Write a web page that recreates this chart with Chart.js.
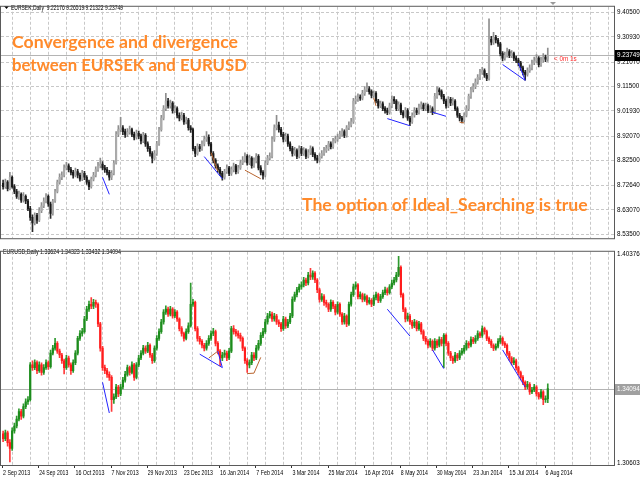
<!DOCTYPE html>
<html>
<head>
<meta charset="utf-8">
<script src="https://cdn.jsdelivr.net/npm/chart.js@4.4.0/dist/chart.umd.min.js"></script>
<style>
  html, body { margin: 0; padding: 0; background: #fff; }
  #wrap { position: relative; width: 640px; height: 480px; overflow: hidden; }
  canvas { position: absolute; left: 0; }
  #top { top: 0; }
  #bot { top: 245px; }
</style>
</head>
<body>
<div id="wrap">
  <canvas id="top" width="640" height="245"></canvas>
  <canvas id="bot" width="640" height="235"></canvas>
</div>
<script>
// x axis labels, one every 16 daily bars
const dateLabels = ["2 Sep 2013", "24 Sep 2013", "16 Oct 2013", "7 Nov 2013", "29 Nov 2013",
  "23 Dec 2013", "16 Jan 2014", "7 Feb 2014", "3 Mar 2014", "25 Mar 2014", "16 Apr 2014",
  "8 May 2014", "30 May 2014", "23 Jun 2014", "15 Jul 2014", "6 Aug 2014"];

// price scale labels
const sekTicks = [9.405, 9.3093, 9.2107, 9.115, 9.0193, 8.9207, 8.825, 8.7264, 8.6307, 8.535];
const usdTicks = [1.40376, 1.30603];

// EURSEK daily
const sekOpen = [8.735, 8.722, 8.740, 8.714, 8.759, 8.722, 8.703, 8.684, 8.692, 8.669,
  8.684, 8.666, 8.636, 8.602, 8.580, 8.610, 8.591, 8.628, 8.647, 8.666,
  8.684, 8.654, 8.617, 8.666, 8.703, 8.740, 8.759, 8.767, 8.796, 8.804,
  8.789, 8.778, 8.767, 8.781, 8.767, 8.752, 8.774, 8.759, 8.740, 8.722,
  8.752, 8.767, 8.789, 8.804, 8.811, 8.796, 8.789, 8.778, 8.759, 8.774,
  8.815, 8.927, 8.946, 8.953, 8.938, 8.927, 8.935, 8.946, 8.927, 8.916,
  8.931, 8.920, 8.901, 8.923, 8.890, 8.871, 8.852, 8.834, 8.852, 8.890,
  8.946, 8.991, 9.028, 9.058, 9.039, 9.050, 9.020, 9.028, 9.002, 8.991,
  9.002, 8.976, 8.983, 8.953, 8.946, 8.871, 8.852, 8.879, 8.871, 8.890,
  8.908, 8.916, 8.890, 8.852, 8.826, 8.804, 8.789, 8.774, 8.759, 8.781,
  8.796, 8.774, 8.789, 8.804, 8.781, 8.796, 8.815, 8.826, 8.841, 8.815,
  8.834, 8.804, 8.823, 8.841, 8.796, 8.778, 8.767, 8.815, 8.834, 8.841,
  8.908, 8.953, 8.964, 8.946, 8.927, 8.908, 8.920, 8.890, 8.871, 8.852,
  8.864, 8.841, 8.871, 8.852, 8.864, 8.841, 8.856, 8.871, 8.849, 8.834,
  8.826, 8.841, 8.852, 8.864, 8.871, 8.890, 8.879, 8.901, 8.908, 8.916,
  8.927, 8.938, 8.923, 8.953, 8.964, 8.976, 9.058, 9.065, 9.073, 9.069,
  9.088, 9.102, 9.106, 9.095, 9.080, 9.088, 9.058, 9.039, 9.047, 9.028,
  9.020, 9.013, 9.039, 9.065, 9.058, 9.028, 9.043, 9.013, 9.002, 9.020,
  8.991, 8.976, 9.002, 9.020, 9.013, 9.035, 9.043, 9.028, 9.039, 9.020,
  9.028, 9.013, 9.076, 9.102, 9.095, 9.076, 9.058, 9.039, 9.065, 9.050,
  9.058, 9.028, 9.002, 8.991, 8.983, 9.002, 9.028, 9.076, 9.102, 9.114,
  9.132, 9.151, 9.170, 9.177, 9.159, 9.147, 9.300, 9.289, 9.308, 9.297,
  9.282, 9.244, 9.226, 9.237, 9.252, 9.237, 9.244, 9.226, 9.218, 9.207,
  9.188, 9.170, 9.162, 9.177, 9.188, 9.207, 9.215, 9.226, 9.200, 9.218,
  9.230, 9.22176];
const sekHigh = [8.748, 8.752, 8.746, 8.778, 8.765, 8.730, 8.712, 8.705, 8.698, 8.699,
  8.690, 8.672, 8.645, 8.612, 8.620, 8.618, 8.640, 8.660, 8.678, 8.695,
  8.690, 8.662, 8.672, 8.712, 8.748, 8.772, 8.780, 8.808, 8.818, 8.812,
  8.798, 8.786, 8.795, 8.790, 8.775, 8.786, 8.782, 8.766, 8.748, 8.760,
  8.778, 8.800, 8.818, 8.834, 8.820, 8.806, 8.798, 8.786, 8.785, 8.824,
  8.938, 8.962, 8.994, 8.962, 8.948, 8.950, 8.960, 8.952, 8.936, 8.944,
  8.940, 8.928, 8.935, 8.930, 8.898, 8.880, 8.860, 8.864, 8.900, 8.955,
  9.002, 9.040, 9.088, 9.068, 9.062, 9.056, 9.040, 9.035, 9.012, 9.015,
  9.010, 8.995, 8.990, 8.962, 8.952, 8.880, 8.890, 8.888, 8.902, 8.920,
  8.938, 8.925, 8.896, 8.860, 8.832, 8.812, 8.798, 8.782, 8.790, 8.808,
  8.802, 8.800, 8.815, 8.810, 8.806, 8.826, 8.840, 8.855, 8.848, 8.846,
  8.840, 8.835, 8.852, 8.848, 8.805, 8.785, 8.824, 8.845, 8.855, 8.918,
  8.965, 9.002, 8.975, 8.955, 8.935, 8.932, 8.928, 8.898, 8.880, 8.876,
  8.870, 8.882, 8.880, 8.875, 8.870, 8.868, 8.882, 8.878, 8.856, 8.845,
  8.852, 8.864, 8.876, 8.884, 8.900, 8.898, 8.912, 8.920, 8.928, 8.940,
  8.950, 8.945, 8.962, 8.976, 8.990, 9.068, 9.078, 9.086, 9.082, 9.100,
  9.115, 9.129, 9.115, 9.102, 9.098, 9.095, 9.065, 9.058, 9.055, 9.036,
  9.030, 9.050, 9.078, 9.075, 9.064, 9.055, 9.050, 9.020, 9.032, 9.028,
  8.998, 9.012, 9.032, 9.030, 9.046, 9.055, 9.050, 9.050, 9.046, 9.040,
  9.035, 9.088, 9.114, 9.110, 9.102, 9.084, 9.066, 9.075, 9.072, 9.070,
  9.064, 9.035, 9.010, 8.998, 9.012, 9.040, 9.085, 9.112, 9.126, 9.145,
  9.162, 9.182, 9.190, 9.184, 9.166, 9.380, 9.312, 9.327, 9.315, 9.304,
  9.288, 9.252, 9.250, 9.265, 9.260, 9.256, 9.250, 9.234, 9.225, 9.214,
  9.195, 9.178, 9.188, 9.200, 9.218, 9.230, 9.240, 9.232, 9.230, 9.244,
  9.238, 9.26519];
const sekLow = [8.712, 8.715, 8.705, 8.709, 8.716, 8.695, 8.676, 8.672, 8.660, 8.661,
  8.655, 8.628, 8.590, 8.546, 8.572, 8.578, 8.585, 8.620, 8.640, 8.658,
  8.645, 8.598, 8.610, 8.660, 8.698, 8.732, 8.750, 8.760, 8.788, 8.780,
  8.768, 8.755, 8.760, 8.756, 8.744, 8.746, 8.750, 8.731, 8.710, 8.716,
  8.745, 8.760, 8.782, 8.796, 8.788, 8.778, 8.768, 8.748, 8.750, 8.768,
  8.810, 8.918, 8.938, 8.926, 8.915, 8.918, 8.928, 8.918, 8.905, 8.908,
  8.910, 8.890, 8.895, 8.880, 8.860, 8.842, 8.815, 8.826, 8.845, 8.884,
  8.940, 8.984, 9.020, 9.030, 9.030, 9.010, 9.012, 8.992, 8.980, 8.984,
  8.966, 8.968, 8.944, 8.935, 8.862, 8.840, 8.846, 8.860, 8.864, 8.882,
  8.900, 8.882, 8.843, 8.815, 8.795, 8.778, 8.765, 8.748, 8.752, 8.774,
  8.765, 8.766, 8.780, 8.772, 8.774, 8.790, 8.808, 8.818, 8.806, 8.808,
  8.795, 8.798, 8.815, 8.788, 8.768, 8.752, 8.760, 8.808, 8.826, 8.835,
  8.900, 8.945, 8.936, 8.918, 8.898, 8.900, 8.880, 8.862, 8.842, 8.845,
  8.832, 8.835, 8.844, 8.845, 8.832, 8.835, 8.848, 8.840, 8.825, 8.815,
  8.818, 8.834, 8.845, 8.856, 8.864, 8.870, 8.872, 8.894, 8.900, 8.910,
  8.920, 8.914, 8.916, 8.946, 8.956, 8.970, 9.048, 9.056, 9.060, 9.062,
  9.080, 9.095, 9.085, 9.070, 9.072, 9.050, 9.030, 9.032, 9.020, 9.010,
  9.004, 9.006, 9.032, 9.048, 9.020, 9.020, 9.004, 8.992, 8.995, 8.982,
  8.961, 8.970, 8.995, 9.004, 9.006, 9.026, 9.020, 9.020, 9.012, 9.012,
  9.004, 9.008, 9.068, 9.082, 9.066, 9.048, 9.030, 9.032, 9.040, 9.042,
  9.020, 8.994, 8.980, 8.972, 8.976, 8.996, 9.020, 9.068, 9.094, 9.106,
  9.124, 9.142, 9.162, 9.150, 9.138, 9.140, 9.278, 9.280, 9.286, 9.272,
  9.235, 9.215, 9.218, 9.230, 9.228, 9.228, 9.216, 9.208, 9.196, 9.178,
  9.160, 9.140, 9.155, 9.170, 9.180, 9.200, 9.208, 9.192, 9.194, 9.210,
  9.212, 9.21322];
const sekClose = [8.722, 8.740, 8.714, 8.759, 8.722, 8.703, 8.684, 8.692, 8.669, 8.684,
  8.666, 8.636, 8.602, 8.580, 8.610, 8.591, 8.628, 8.647, 8.666, 8.684,
  8.654, 8.617, 8.666, 8.703, 8.740, 8.759, 8.767, 8.796, 8.804, 8.789,
  8.778, 8.767, 8.781, 8.767, 8.752, 8.774, 8.759, 8.740, 8.722, 8.752,
  8.767, 8.789, 8.804, 8.811, 8.796, 8.789, 8.778, 8.759, 8.774, 8.815,
  8.927, 8.946, 8.953, 8.938, 8.927, 8.935, 8.946, 8.927, 8.916, 8.931,
  8.920, 8.901, 8.923, 8.890, 8.871, 8.852, 8.834, 8.852, 8.890, 8.946,
  8.991, 9.028, 9.058, 9.039, 9.050, 9.020, 9.028, 9.002, 8.991, 9.002,
  8.976, 8.983, 8.953, 8.946, 8.871, 8.852, 8.879, 8.871, 8.890, 8.908,
  8.916, 8.890, 8.852, 8.826, 8.804, 8.789, 8.774, 8.759, 8.781, 8.796,
  8.774, 8.789, 8.804, 8.781, 8.796, 8.815, 8.826, 8.841, 8.815, 8.834,
  8.804, 8.823, 8.841, 8.796, 8.778, 8.767, 8.815, 8.834, 8.841, 8.908,
  8.953, 8.964, 8.946, 8.927, 8.908, 8.920, 8.890, 8.871, 8.852, 8.864,
  8.841, 8.871, 8.852, 8.864, 8.841, 8.856, 8.871, 8.849, 8.834, 8.826,
  8.841, 8.852, 8.864, 8.871, 8.890, 8.879, 8.901, 8.908, 8.916, 8.927,
  8.938, 8.923, 8.953, 8.964, 8.976, 9.058, 9.065, 9.073, 9.069, 9.088,
  9.102, 9.106, 9.095, 9.080, 9.088, 9.058, 9.039, 9.047, 9.028, 9.020,
  9.013, 9.039, 9.065, 9.058, 9.028, 9.043, 9.013, 9.002, 9.020, 8.991,
  8.976, 9.002, 9.020, 9.013, 9.035, 9.043, 9.028, 9.039, 9.020, 9.028,
  9.013, 9.076, 9.102, 9.095, 9.076, 9.058, 9.039, 9.065, 9.050, 9.058,
  9.028, 9.002, 8.991, 8.983, 9.002, 9.028, 9.076, 9.102, 9.114, 9.132,
  9.151, 9.170, 9.177, 9.159, 9.147, 9.300, 9.289, 9.308, 9.297, 9.282,
  9.244, 9.226, 9.237, 9.252, 9.237, 9.244, 9.226, 9.218, 9.207, 9.188,
  9.170, 9.162, 9.177, 9.188, 9.207, 9.215, 9.226, 9.200, 9.218, 9.230,
  9.222, 9.23749];

// EURUSD daily
const usdOpen = [1.3197, 1.3175, 1.3202, 1.3156, 1.3129, 1.3211, 1.3234, 1.3266, 1.3302, 1.3280,
  1.3325, 1.3348, 1.3357, 1.3521, 1.3508, 1.3531, 1.3494, 1.3521, 1.3485, 1.3508,
  1.3531, 1.3512, 1.3576, 1.3599, 1.3622, 1.3585, 1.3567, 1.3540, 1.3508, 1.3553,
  1.3521, 1.3494, 1.3531, 1.3576, 1.3645, 1.3668, 1.3677, 1.3736, 1.3782, 1.3805,
  1.3796, 1.3814, 1.3805, 1.3713, 1.3599, 1.3508, 1.3494, 1.3476, 1.3462, 1.3357,
  1.3371, 1.3417, 1.3385, 1.3417, 1.3449, 1.3476, 1.3508, 1.3485, 1.3521, 1.3462,
  1.3521, 1.3553, 1.3576, 1.3599, 1.3585, 1.3613, 1.3567, 1.3540, 1.3599, 1.3645,
  1.3677, 1.3722, 1.3768, 1.3782, 1.3759, 1.3782, 1.3750, 1.3768, 1.3736, 1.3691,
  1.3668, 1.3645, 1.3677, 1.3704, 1.3805, 1.3814, 1.3691, 1.3645, 1.3631, 1.3613,
  1.3599, 1.3622, 1.3645, 1.3668, 1.3677, 1.3622, 1.3585, 1.3553, 1.3567, 1.3576,
  1.3553, 1.3585, 1.3691, 1.3677, 1.3668, 1.3659, 1.3645, 1.3599, 1.3540, 1.3521,
  1.3531, 1.3567, 1.3553, 1.3599, 1.3622, 1.3659, 1.3677, 1.3722, 1.3750, 1.3759,
  1.3736, 1.3750, 1.3722, 1.3713, 1.3691, 1.3736, 1.3704, 1.3722, 1.3750, 1.3828,
  1.3850, 1.3873, 1.3887, 1.3896, 1.3919, 1.3905, 1.3942, 1.3933, 1.3951, 1.3919,
  1.3873, 1.3828, 1.3841, 1.3814, 1.3805, 1.3782, 1.3814, 1.3796, 1.3768, 1.3805,
  1.3759, 1.3722, 1.3750, 1.3713, 1.3805, 1.3850, 1.3887, 1.3896, 1.3841, 1.3850,
  1.3828, 1.3841, 1.3814, 1.3823, 1.3805, 1.3837, 1.3850, 1.3823, 1.3841, 1.3860,
  1.3873, 1.3860, 1.3887, 1.3905, 1.3919, 1.3942, 1.3978, 1.3850, 1.3782, 1.3736,
  1.3750, 1.3722, 1.3704, 1.3722, 1.3691, 1.3713, 1.3677, 1.3645, 1.3631, 1.3613,
  1.3631, 1.3599, 1.3631, 1.3613, 1.3640, 1.3622, 1.3659, 1.3622, 1.3576, 1.3553,
  1.3540, 1.3567, 1.3553, 1.3576, 1.3585, 1.3599, 1.3622, 1.3613, 1.3640, 1.3631,
  1.3645, 1.3668, 1.3659, 1.3691, 1.3677, 1.3645, 1.3631, 1.3613, 1.3599, 1.3608,
  1.3631, 1.3645, 1.3622, 1.3613, 1.3576, 1.3553, 1.3531, 1.3540, 1.3508, 1.3485,
  1.3462, 1.3439, 1.3417, 1.3430, 1.3394, 1.3403, 1.3417, 1.3385, 1.3371, 1.3394,
  1.3357, 1.33624];
const usdHigh = [1.3210, 1.3215, 1.3210, 1.3170, 1.3225, 1.3248, 1.3280, 1.3315, 1.3312, 1.3338,
  1.3362, 1.3372, 1.3532, 1.3540, 1.3545, 1.3540, 1.3535, 1.3530, 1.3522, 1.3545,
  1.3540, 1.3590, 1.3612, 1.3645, 1.3630, 1.3595, 1.3575, 1.3548, 1.3565, 1.3562,
  1.3530, 1.3545, 1.3588, 1.3655, 1.3682, 1.3692, 1.3748, 1.3795, 1.3820, 1.3837,
  1.3828, 1.3825, 1.3812, 1.3720, 1.3608, 1.3520, 1.3505, 1.3488, 1.3470, 1.3385,
  1.3430, 1.3425, 1.3430, 1.3462, 1.3490, 1.3520, 1.3515, 1.3535, 1.3528, 1.3532,
  1.3566, 1.3588, 1.3612, 1.3610, 1.3626, 1.3620, 1.3575, 1.3610, 1.3658, 1.3690,
  1.3735, 1.3780, 1.3798, 1.3792, 1.3795, 1.3790, 1.3780, 1.3775, 1.3742, 1.3700,
  1.3675, 1.3690, 1.3718, 1.3905, 1.3828, 1.3820, 1.3700, 1.3655, 1.3640, 1.3622,
  1.3635, 1.3658, 1.3680, 1.3692, 1.3684, 1.3630, 1.3592, 1.3580, 1.3590, 1.3585,
  1.3598, 1.3702, 1.3705, 1.3688, 1.3680, 1.3670, 1.3652, 1.3606, 1.3550, 1.3545,
  1.3580, 1.3578, 1.3612, 1.3636, 1.3672, 1.3692, 1.3735, 1.3762, 1.3772, 1.3768,
  1.3762, 1.3758, 1.3732, 1.3720, 1.3748, 1.3745, 1.3735, 1.3762, 1.3840, 1.3862,
  1.3885, 1.3900, 1.3910, 1.3932, 1.3928, 1.3955, 1.3974, 1.3962, 1.3958, 1.3926,
  1.3880, 1.3855, 1.3850, 1.3825, 1.3812, 1.3826, 1.3822, 1.3805, 1.3816, 1.3812,
  1.3766, 1.3762, 1.3756, 1.3815, 1.3862, 1.3900, 1.3910, 1.3902, 1.3864, 1.3858,
  1.3854, 1.3848, 1.3836, 1.3832, 1.3848, 1.3862, 1.3858, 1.3852, 1.3872, 1.3886,
  1.3882, 1.3898, 1.3918, 1.3932, 1.3955, 1.4030, 1.3985, 1.3858, 1.3790, 1.3764,
  1.3758, 1.3730, 1.3735, 1.3728, 1.3725, 1.3720, 1.3685, 1.3655, 1.3640, 1.3644,
  1.3638, 1.3644, 1.3640, 1.3652, 1.3650, 1.3668, 1.3666, 1.3630, 1.3584, 1.3562,
  1.3580, 1.3575, 1.3588, 1.3598, 1.3612, 1.3635, 1.3630, 1.3652, 1.3650, 1.3658,
  1.3680, 1.3676, 1.3704, 1.3698, 1.3684, 1.3652, 1.3640, 1.3620, 1.3620, 1.3644,
  1.3658, 1.3652, 1.3630, 1.3620, 1.3584, 1.3560, 1.3555, 1.3548, 1.3515, 1.3492,
  1.3470, 1.3446, 1.3444, 1.3438, 1.3416, 1.3430, 1.3424, 1.3392, 1.3406, 1.3400,
  1.3375, 1.34323];
const usdLow = [1.3160, 1.3165, 1.3140, 1.3065, 1.3120, 1.3200, 1.3225, 1.3258, 1.3265, 1.3272,
  1.3315, 1.3335, 1.3350, 1.3495, 1.3498, 1.3480, 1.3485, 1.3472, 1.3476, 1.3500,
  1.3500, 1.3505, 1.3568, 1.3590, 1.3575, 1.3555, 1.3528, 1.3478, 1.3500, 1.3510,
  1.3476, 1.3485, 1.3522, 1.3568, 1.3635, 1.3655, 1.3670, 1.3728, 1.3772, 1.3785,
  1.3785, 1.3790, 1.3700, 1.3585, 1.3495, 1.3480, 1.3462, 1.3448, 1.3302, 1.3340,
  1.3362, 1.3372, 1.3376, 1.3408, 1.3440, 1.3468, 1.3472, 1.3478, 1.3448, 1.3455,
  1.3512, 1.3545, 1.3568, 1.3575, 1.3578, 1.3556, 1.3528, 1.3532, 1.3590, 1.3636,
  1.3668, 1.3712, 1.3758, 1.3748, 1.3750, 1.3740, 1.3742, 1.3725, 1.3680, 1.3655,
  1.3632, 1.3638, 1.3668, 1.3698, 1.3795, 1.3680, 1.3632, 1.3618, 1.3600, 1.3586,
  1.3590, 1.3612, 1.3636, 1.3658, 1.3610, 1.3572, 1.3517, 1.3540, 1.3556, 1.3540,
  1.3545, 1.3578, 1.3665, 1.3655, 1.3646, 1.3632, 1.3588, 1.3528, 1.3485, 1.3506,
  1.3522, 1.3540, 1.3545, 1.3590, 1.3612, 1.3648, 1.3668, 1.3712, 1.3740, 1.3725,
  1.3726, 1.3710, 1.3700, 1.3678, 1.3682, 1.3692, 1.3695, 1.3714, 1.3742, 1.3818,
  1.3840, 1.3862, 1.3876, 1.3886, 1.3892, 1.3896, 1.3920, 1.3922, 1.3906, 1.3860,
  1.3815, 1.3818, 1.3800, 1.3792, 1.3770, 1.3772, 1.3784, 1.3755, 1.3760, 1.3748,
  1.3710, 1.3712, 1.3700, 1.3706, 1.3796, 1.3842, 1.3876, 1.3830, 1.3830, 1.3816,
  1.3818, 1.3802, 1.3805, 1.3794, 1.3798, 1.3826, 1.3812, 1.3814, 1.3832, 1.3850,
  1.3848, 1.3852, 1.3878, 1.3896, 1.3910, 1.3935, 1.3838, 1.3770, 1.3722, 1.3726,
  1.3710, 1.3692, 1.3695, 1.3680, 1.3682, 1.3665, 1.3634, 1.3618, 1.3600, 1.3604,
  1.3588, 1.3590, 1.3602, 1.3605, 1.3610, 1.3508, 1.3610, 1.3565, 1.3540, 1.3528,
  1.3532, 1.3540, 1.3545, 1.3566, 1.3575, 1.3590, 1.3600, 1.3605, 1.3620, 1.3622,
  1.3636, 1.3648, 1.3650, 1.3665, 1.3634, 1.3620, 1.3602, 1.3588, 1.3590, 1.3600,
  1.3622, 1.3612, 1.3602, 1.3565, 1.3542, 1.3520, 1.3522, 1.3496, 1.3474, 1.3450,
  1.3428, 1.3405, 1.3408, 1.3382, 1.3386, 1.3395, 1.3374, 1.3360, 1.3364, 1.3334,
  1.3345, 1.33432];
const usdClose = [1.3175, 1.3202, 1.3156, 1.3129, 1.3211, 1.3234, 1.3266, 1.3302, 1.3280, 1.3325,
  1.3348, 1.3357, 1.3521, 1.3508, 1.3531, 1.3494, 1.3521, 1.3485, 1.3508, 1.3531,
  1.3512, 1.3576, 1.3599, 1.3622, 1.3585, 1.3567, 1.3540, 1.3508, 1.3553, 1.3521,
  1.3494, 1.3531, 1.3576, 1.3645, 1.3668, 1.3677, 1.3736, 1.3782, 1.3805, 1.3796,
  1.3814, 1.3805, 1.3713, 1.3599, 1.3508, 1.3494, 1.3476, 1.3462, 1.3357, 1.3371,
  1.3417, 1.3385, 1.3417, 1.3449, 1.3476, 1.3508, 1.3485, 1.3521, 1.3462, 1.3521,
  1.3553, 1.3576, 1.3599, 1.3585, 1.3613, 1.3567, 1.3540, 1.3599, 1.3645, 1.3677,
  1.3722, 1.3768, 1.3782, 1.3759, 1.3782, 1.3750, 1.3768, 1.3736, 1.3691, 1.3668,
  1.3645, 1.3677, 1.3704, 1.3805, 1.3814, 1.3691, 1.3645, 1.3631, 1.3613, 1.3599,
  1.3622, 1.3645, 1.3668, 1.3677, 1.3622, 1.3585, 1.3553, 1.3567, 1.3576, 1.3553,
  1.3585, 1.3691, 1.3677, 1.3668, 1.3659, 1.3645, 1.3599, 1.3540, 1.3521, 1.3531,
  1.3567, 1.3553, 1.3599, 1.3622, 1.3659, 1.3677, 1.3722, 1.3750, 1.3759, 1.3736,
  1.3750, 1.3722, 1.3713, 1.3691, 1.3736, 1.3704, 1.3722, 1.3750, 1.3828, 1.3850,
  1.3873, 1.3887, 1.3896, 1.3919, 1.3905, 1.3942, 1.3933, 1.3951, 1.3919, 1.3873,
  1.3828, 1.3841, 1.3814, 1.3805, 1.3782, 1.3814, 1.3796, 1.3768, 1.3805, 1.3759,
  1.3722, 1.3750, 1.3713, 1.3805, 1.3850, 1.3887, 1.3896, 1.3841, 1.3850, 1.3828,
  1.3841, 1.3814, 1.3823, 1.3805, 1.3837, 1.3850, 1.3823, 1.3841, 1.3860, 1.3873,
  1.3860, 1.3887, 1.3905, 1.3919, 1.3942, 1.3978, 1.3850, 1.3782, 1.3736, 1.3750,
  1.3722, 1.3704, 1.3722, 1.3691, 1.3713, 1.3677, 1.3645, 1.3631, 1.3613, 1.3631,
  1.3599, 1.3631, 1.3613, 1.3640, 1.3622, 1.3659, 1.3622, 1.3576, 1.3553, 1.3540,
  1.3567, 1.3553, 1.3576, 1.3585, 1.3599, 1.3622, 1.3613, 1.3640, 1.3631, 1.3645,
  1.3668, 1.3659, 1.3691, 1.3677, 1.3645, 1.3631, 1.3613, 1.3599, 1.3608, 1.3631,
  1.3645, 1.3622, 1.3613, 1.3576, 1.3553, 1.3531, 1.3540, 1.3508, 1.3485, 1.3462,
  1.3439, 1.3417, 1.3430, 1.3394, 1.3403, 1.3417, 1.3385, 1.3371, 1.3394, 1.3357,
  1.33624, 1.34094];

// divergence lines: [bar1, price1, bar2, price2]
const sekBlueLines = [[44, 8.759, 47, 8.692], [89, 8.840, 97, 8.753], [170, 8.989, 180, 8.961],
  [190, 9.014, 196, 8.998], [221, 9.201, 231, 9.139], [228, 9.207, 231, 9.139]];
const sekBrownLines = [[92, 8.856, 95, 8.784], [107, 8.787, 114, 8.753], [164, 9.070, 165, 9.039],
  [202, 8.975, 204, 8.972]];
const usdBlueLines = [[44, 1.3439, 47, 1.3295], [87, 1.3571, 97, 1.3508], [95, 1.3585, 97, 1.3508],
  [170, 1.3782, 180, 1.3656], [190, 1.3591, 195, 1.3503], [221, 1.3591, 231, 1.3417]];
const usdBrownLines = [[91, 1.3553, 95, 1.3585], [108, 1.3480, 111, 1.3482], [111, 1.3482, 114, 1.3556]];

const tickFont = '6.3px "Liberation Sans", Arial, sans-serif';
const labelFamily = '"Liberation Sans", Arial, sans-serif';
const orange = "#ff8a2b";

function candleSets(open, high, low, close, c) {
	const up = close.map((v, i) => v >= open[i]);
	return [
		{
			type: "bar",
			data: close.map((v, i) => ({ x: i, y: [low[i], high[i]] })),
			backgroundColor: up.map((u) => (u ? c.upWick : c.downWick)),
			barThickness: 1,
			grouped: false,
			order: 3,
		},
		{
			type: "bar",
			data: close.map((v, i) => ({ x: i, y: [open[i], v] })),
			backgroundColor: up.map((u) => (u ? c.up : c.down)),
			barThickness: 1.5,
			minBarLength: 1,
			grouped: false,
			order: 2,
		},
	];
}

function lineSets(segs, color) {
	return segs.map((s) => ({
		type: "line",
		data: [{ x: s[0], y: s[1] }, { x: s[2], y: s[3] }],
		borderColor: color,
		borderWidth: 1,
		pointRadius: 0,
		tension: 0,
		order: 1,
	}));
}

function gridTicks(scale) {
	const t = [];
	for (let v = 0; v <= 264; v += 8) t.push({ value: v });
	scale.ticks = t;
}

function fitFont(ctx, text, weight, family, width) {
	ctx.font = weight + " 100px " + family;
	const w = ctx.measureText(text).width;
	return weight + " " + ((100 * width) / w).toFixed(2) + "px " + family;
}

// text drawn at a given size, squeezed horizontally to a given width
function squeezedText(ctx, text, x, y, size, width, color) {
	ctx.save();
	ctx.font = size + "px " + labelFamily;
	const w = ctx.measureText(text).width;
	ctx.translate(x, y);
	ctx.scale(Math.min(1, width / w), 1);
	ctx.fillStyle = color;
	ctx.textBaseline = "middle";
	ctx.textAlign = "left";
	ctx.fillText(text, 0, 0);
	ctx.restore();
}

// frame around plot area
const framePlugin = {
	id: "frame",
	afterDraw(chart) {
		const a = chart.chartArea, ctx = chart.ctx;
		ctx.save();
		ctx.strokeStyle = "#5a5a5a";
		ctx.lineWidth = 1;
		ctx.strokeRect(a.left - 0.5, a.top - 0.5, a.right - a.left + 1, a.bottom - a.top + 1);
		ctx.restore();
	},
};

function drawPriceLine(chart, value) {
	const a = chart.chartArea, ctx = chart.ctx;
	const y = Math.round(chart.scales.y.getPixelForValue(value)) + 0.5;
	ctx.save();
	ctx.strokeStyle = "#b4b4b4";
	ctx.lineWidth = 1;
	ctx.beginPath();
	ctx.moveTo(a.left, y);
	ctx.lineTo(a.right, y);
	ctx.stroke();
	ctx.restore();
}

function drawPriceBox(chart, value, bg) {
	const a = chart.chartArea, ctx = chart.ctx;
	const y = Math.round(chart.scales.y.getPixelForValue(value));
	ctx.save();
	ctx.fillStyle = bg;
	ctx.fillRect(a.right + 1, y - 5, 26, 11);
	ctx.fillStyle = "#fff";
	ctx.font = tickFont;
	ctx.textBaseline = "middle";
	ctx.fillText(value.toFixed(5), a.right + 3, y + 0.5);
	ctx.restore();
}

const topOverlay = {
	id: "topOverlay",
	beforeDatasetsDraw(chart) {
		drawPriceLine(chart, sekClose[sekClose.length - 1]);
	},
	afterDraw(chart) {
		const ctx = chart.ctx;
		drawPriceBox(chart, sekClose[sekClose.length - 1], "#000");

		// symbol header with small arrow
		ctx.save();
		ctx.fillStyle = "#000";
		ctx.beginPath();
		ctx.moveTo(4, 6);
		ctx.lineTo(9, 6);
		ctx.lineTo(6.5, 9);
		ctx.closePath();
		ctx.fill();
		ctx.restore();
		squeezedText(ctx, "EURSEK,Daily  9.22176 9.26519 9.21322 9.23749", 11, 8, 7.2, 112, "#000");

		// chart shift marker
		ctx.save();
		ctx.fillStyle = "#9a9a9a";
		ctx.beginPath();
		ctx.moveTo(550, 2);
		ctx.lineTo(556, 2);
		ctx.lineTo(553, 5);
		ctx.closePath();
		ctx.fill();
		ctx.restore();

		// countdown
		ctx.save();
		ctx.fillStyle = "#ff2b2b";
		ctx.font = tickFont;
		ctx.textBaseline = "middle";
		ctx.fillText("< 0m 1s", 554, 59);
		ctx.restore();

		// captions
		const fam = 'Lato, "Open Sans", sans-serif';
		ctx.save();
		ctx.fillStyle = orange;
		ctx.textBaseline = "alphabetic";
		ctx.font = fitFont(ctx, "Convergence and divergence", "bold", fam, 226);
		ctx.fillText("Convergence and divergence", 12, 48);
		ctx.font = fitFont(ctx, "between EURSEK and EURUSD", "bold", fam, 235);
		ctx.fillText("between EURSEK and EURUSD", 12, 71);
		ctx.font = fitFont(ctx, "The option of Ideal_Searching is true", "bold", fam, 286);
		ctx.fillText("The option of Ideal_Searching is true", 302, 211);
		ctx.restore();
	},
};

const botOverlay = {
	id: "botOverlay",
	beforeDatasetsDraw(chart) {
		drawPriceLine(chart, usdClose[usdClose.length - 1]);
	},
	afterDraw(chart) {
		const ctx = chart.ctx, a = chart.chartArea, xs = chart.scales.x;
		drawPriceBox(chart, usdClose[usdClose.length - 1], "#a0a0a0");
		squeezedText(ctx, "EURUSD,Daily 1.33624 1.34323 1.33432 1.34094", 3, 7, 7.2, 118, "#000");
		// date labels, left edge on their grid line, with a short tick
		dateLabels.forEach((lab, k) => {
			const x = xs.getPixelForValue(k * 16);
			const w = lab.length > 10 ? 29 : lab.length > 9 ? 27 : 25;
			ctx.save();
			ctx.strokeStyle = "#333";
			ctx.lineWidth = 1;
			ctx.beginPath();
			ctx.moveTo(Math.round(x) - 0.5, a.bottom);
			ctx.lineTo(Math.round(x) - 0.5, a.bottom + 3);
			ctx.stroke();
			ctx.restore();
			squeezedText(ctx, lab, x, a.bottom + 8, 7.8, w, "#000");
		});
	},
};

function xScale(height) {
	return {
		type: "linear",
		min: -0.93,
		max: 270.3,
		offset: false,
		grid: {
			color: (c) => (c.tick && c.tick.value === 0 ? "rgba(0,0,0,0)" : "#c8c8c8"),
			drawTicks: false,
		},
		border: { display: false, dash: [3, 2] },
		afterBuildTicks: gridTicks,
		afterFit: (s) => {
			s.height = height;
		},
		ticks: { display: false },
	};
}

function yScale(min, max, ticks, showGrid) {
	return {
		position: "right",
		min: min,
		max: max,
		grid: { display: showGrid, color: "#c8c8c8", drawTicks: false },
		border: { display: false, dash: [3, 2] },
		afterBuildTicks: (s) => {
			s.ticks = ticks.map((v) => ({ value: v }));
		},
		afterFit: (s) => {
			s.width = 26;
		},
		ticks: {
			autoSkip: false,
			padding: 3,
			color: "#000",
			font: { family: labelFamily, size: 6.3 },
			callback: (v) => Number(v).toFixed(5),
		},
	};
}

const common = {
	responsive: false,
	animation: false,
	events: [],
	plugins: { legend: { display: false }, tooltip: { enabled: false } },
};

new Chart(document.getElementById("top"), {
	type: "bar",
	data: {
		datasets: [
			...candleSets(sekOpen, sekHigh, sekLow, sekClose, {
				up: "#ababab", down: "#1a1a1a", upWick: "#8e8e8e", downWick: "#2a2a2a",
			}),
			...lineSets(sekBlueLines, "#2323ff"),
			...lineSets(sekBrownLines, "#b8642e"),
		],
	},
	options: {
		...common,
		layout: { padding: { left: 1, right: 0, top: 1, bottom: 1 } },
		scales: {
			x: xScale(0),
			y: yScale(8.52, 9.4274, sekTicks, true),
		},
	},
	plugins: [topOverlay, framePlugin],
});

new Chart(document.getElementById("bot"), {
	type: "bar",
	data: {
		datasets: [
			...candleSets(usdOpen, usdHigh, usdLow, usdClose, {
				up: "#1c8c1c", down: "#ff1c1c", upWick: "#2f9a2f", downWick: "#ff3a3a",
			}),
			...lineSets(usdBlueLines, "#2323ff"),
			...lineSets(usdBrownLines, "#b8642e"),
		],
	},
	options: {
		...common,
		layout: { padding: { left: 1, right: 0, top: 1, bottom: 0 } },
		scales: {
			x: xScale(15),
			y: yScale(1.30511, 1.40513, usdTicks, false),
		},
	},
	plugins: [botOverlay, framePlugin],
});
</script>
</body>
</html>
